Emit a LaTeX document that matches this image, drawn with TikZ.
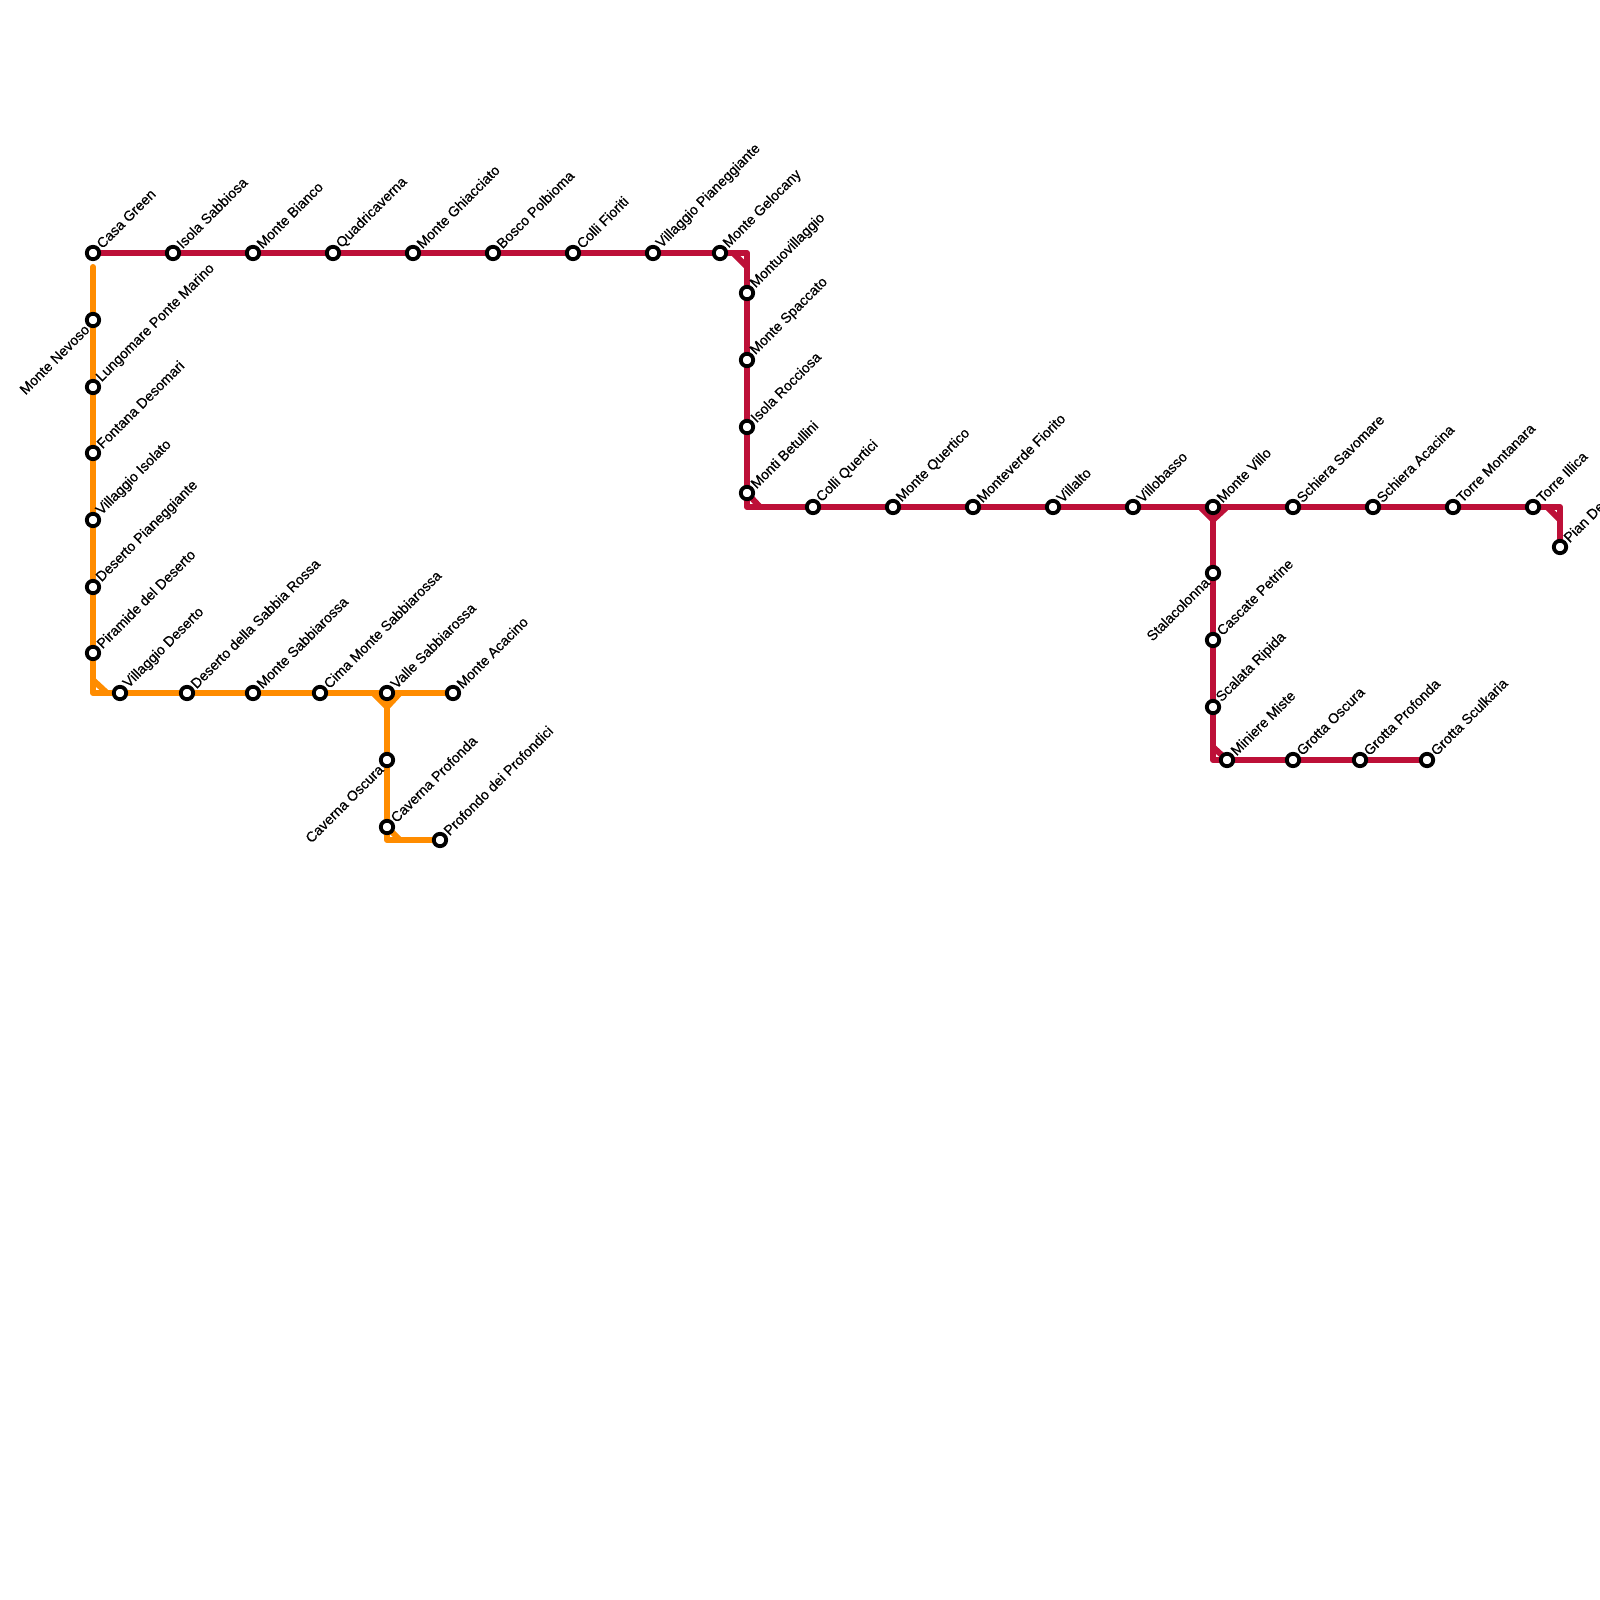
\documentclass[tikz,border=0pt]{standalone}
\usepackage{fontspec}
\setmainfont[FakeBold=0.5]{Liberation Sans}
\definecolor{linered}{HTML}{BD1038}
\definecolor{lineorange}{HTML}{FF8C00}
\tikzset{
  st/.style={circle,draw=black,fill=white,line width=1.9pt,inner sep=0pt,minimum size=6.2pt},
  lab/.style={rotate=45,anchor=west,font=\fontsize{7.1pt}{8pt}\selectfont,inner sep=0pt,text=black,label distance=0.6pt},
  labl/.style={rotate=45,anchor=east,font=\fontsize{7.1pt}{8pt}\selectfont,inner sep=0pt,text=black,label distance=0.6pt},
  redl/.style={draw=linered,line width=3pt,line join=round},
  orgl/.style={draw=lineorange,line width=3pt,line join=round},
}
\newcommand{\stn}[4]{\node[st,label={[lab]45:#4}] (#1) at (#2,#3) {};}
\newcommand{\stl}[4]{\node[st,label={[labl]225:#4}] (#1) at (#2,#3) {};}
\pgfdeclarelayer{lines}
\pgfsetlayers{lines,main}
\begin{document}
\begin{tikzpicture}[x=0.5pt,y=-0.5pt]
\useasboundingbox (0,0) rectangle (1600,1600);
\clip (0,0) rectangle (1600,1600);
% corners and free ends
\coordinate (ostart) at (93,267);
\coordinate (oc1) at (93,693);
\coordinate (oc2) at (387,840);
\coordinate (rc1) at (747,253);
\coordinate (rc2) at (747,507);
\coordinate (rc3) at (1560,507);
\coordinate (rc4) at (1213,760);
% stations
\stn{a1}{93}{253}{Casa Green}
\stn{a2}{173}{253}{Isola Sabbiosa}
\stn{a3}{253}{253}{Monte Bianco}
\stn{a4}{333}{253}{Quadricaverna}
\stn{a5}{413}{253}{Monte Ghiacciato}
\stn{a6}{493}{253}{Bosco Polbioma}
\stn{a7}{573}{253}{Colli Fioriti}
\stn{a8}{653}{253}{Villaggio Pianeggiante}
\stn{a9}{720}{253}{Monte Gelocany}
\stn{b1}{747}{293}{Montuovillaggio}
\stn{b2}{747}{360}{Monte Spaccato}
\stn{b3}{747}{427}{Isola Rocciosa}
\stn{b4}{747}{493}{Monti Betullini}
\stn{c1}{813}{507}{Colli Quertici}
\stn{c2}{893}{507}{Monte Quertico}
\stn{c3}{973}{507}{Monteverde Fiorito}
\stn{c4}{1053}{507}{Villalto}
\stn{c5}{1133}{507}{Villobasso}
\stn{c6}{1213}{507}{Monte Villo}
\stn{c7}{1293}{507}{Schiera Savomare}
\stn{c8}{1373}{507}{Schiera Acacina}
\stn{c9}{1453}{507}{Torre Montanara}
\stn{c10}{1533}{507}{Torre Illica}
\stn{c11}{1560}{547}{Pian De}
\stl{d1}{1213}{573}{Stalacolonna}
\stn{d2}{1213}{640}{Cascate Petrine}
\stn{d3}{1213}{707}{Scalata Ripida}
\stn{d4}{1227}{760}{Miniere Miste}
\stn{d5}{1293}{760}{Grotta Oscura}
\stn{d6}{1360}{760}{Grotta Profonda}
\stn{d7}{1427}{760}{Grotta Sculkaria}
\stl{e1}{93}{320}{Monte Nevoso}
\stn{e2}{93}{387}{Lungomare Ponte Marino}
\stn{e3}{93}{453}{Fontana Desomari}
\stn{e4}{93}{520}{Villaggio Isolato}
\stn{e5}{93}{587}{Deserto Pianeggiante}
\stn{e6}{93}{653}{Piramide del Deserto}
\stn{f1}{120}{693}{Villaggio Deserto}
\stn{f2}{187}{693}{Deserto della Sabbia Rossa}
\stn{f3}{253}{693}{Monte Sabbiarossa}
\stn{f4}{320}{693}{Cima Monte Sabbiarossa}
\stn{f5}{387}{693}{Valle Sabbiarossa}
\stn{f6}{453}{693}{Monte Acacino}
\stl{g1}{387}{760}{Caverna Oscura}
\stn{g2}{387}{827}{Caverna Profonda}
\stn{g3}{440}{840}{Profondo dei Profondici}
% lines, behind the stations
\begin{pgfonlayer}{lines}
\draw[orgl,line cap=round] (ostart) -- (e6.center) -- (oc1) -- (f1.center) -- (f6.center);
\draw[orgl] (f5.center) -- (g2.center) -- (oc2) -- (g3.center);
\draw[orgl] (93,680) -- (107,693);
\draw[orgl] (373,693) -- (387,707) -- (400,693);
\draw[orgl] (387,827) -- (400,840);
\draw[redl] (a1.center) -- (a9.center) -- (rc1) -- (b4.center) -- (rc2) -- (c10.center) -- (rc3) -- (c11.center);
\draw[redl] (c6.center) -- (d3.center) -- (rc4) -- (d4.center) -- (d7.center);
\draw[redl] (733,253) -- (747,267);
\draw[redl] (747,493) -- (760,507);
\draw[redl] (1200,507) -- (1213,520) -- (1227,507);
\draw[redl] (1547,507) -- (1560,520);
\draw[redl] (1213,747) -- (1227,760);
\end{pgfonlayer}
\end{tikzpicture}
\end{document}
